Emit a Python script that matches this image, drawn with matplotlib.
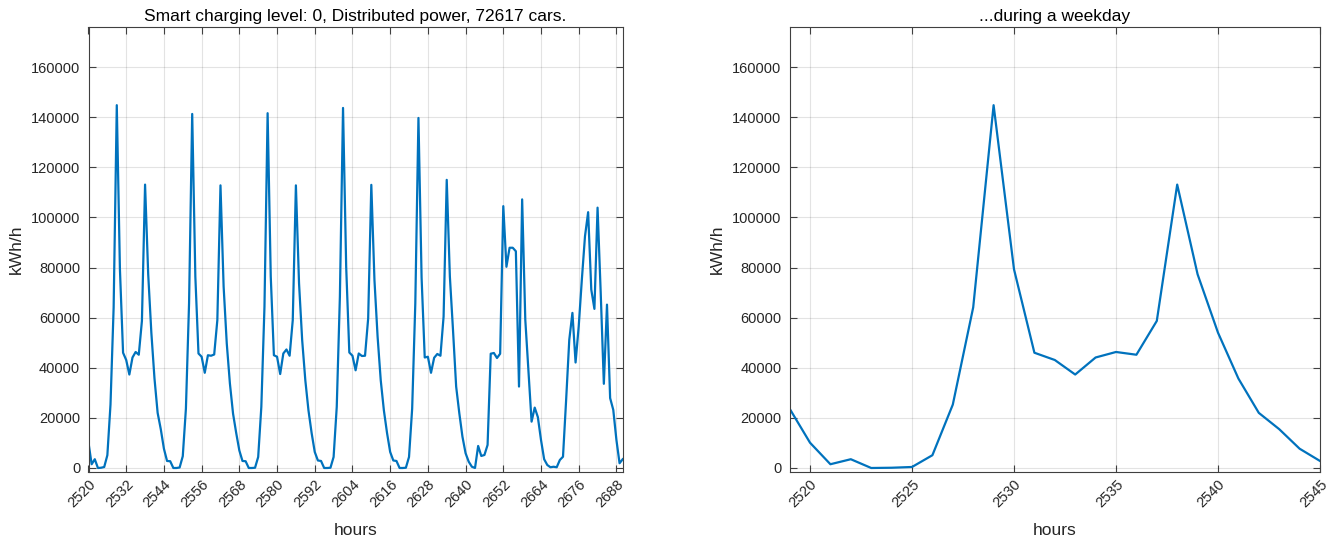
import numpy as np
import matplotlib
matplotlib.use("Agg")
import matplotlib.pyplot as plt

plt.rcParams['font.family'] = ['Liberation Sans', 'DejaVu Sans']

# ---- data ----
week_start_hour = 2520
week_power = [
    10100, 1500, 3500, 0, 100, 400, 5100, 25300, 64100, 144800, 79300, 46000,
    43100, 37300, 44100, 46300, 45200, 58700, 113100, 77300, 54000, 35700, 22000, 15500,
    7700, 2800, 2700, 0, 0, 200, 4700, 23700, 65700, 141300, 76400, 45700,
    44400, 38000, 45000, 44800, 45300, 59000, 112800, 72400, 49700, 33700, 21700, 14000,
    7000, 2800, 2700, 0, 0, 100, 4400, 24400, 64400, 141600, 76400, 45000,
    44400, 37500, 45700, 47300, 44800, 59000, 112800, 73700, 51000, 35000, 23000, 14000,
    6400, 3000, 2800, 0, 0, 100, 4400, 24400, 68400, 143700, 80400, 46100,
    44800, 39000, 45700, 44700, 44800, 59700, 113000, 75000, 52400, 35000, 23000, 14000,
    6400, 3000, 2800, 0, 0, 100, 4400, 23700, 65700, 139700, 76000, 44100,
    44400, 38000, 44000, 45500, 44800, 60400, 115000, 76400, 55000, 32500, 21900, 12500,
    5900, 2500, 500, 0, 8800, 4800, 5200, 9200, 45600, 45900, 43900, 45600,
    104500, 80300, 87900, 87900, 86500, 32500, 107200, 59200, 38500, 18500, 24100, 20300,
    11200, 3500, 1200, 300, 500, 300, 3200, 4500, 27200, 51200, 61900, 42100,
    56500, 75200, 92500, 102100, 71200, 63500, 103900, 70000, 33600, 65200, 27900, 23200,
    11200, 1900, 3500,
]
week_hours = np.arange(week_start_hour, week_start_hour + len(week_power))

day_start_hour = 2519
day_power = [
    23700, 10100, 1500, 3500, 0, 100, 400, 5100, 25300, 64100, 144800, 79300,
    46000, 43100, 37300, 44100, 46300, 45200, 58700, 113100, 77300, 54000,
    35700, 22000, 15500, 7700, 2800,
]
day_hours = np.arange(day_start_hour, day_start_hour + len(day_power))

left_xticks = list(range(2520, 2689, 12))
right_xticks = list(range(2520, 2546, 5))
yticks = list(range(0, 160001, 20000))

title_left = "Smart charging level: 0, Distributed power, 72617 cars."
title_right = "...during a weekday"

# ---- style ----
W, H = 1339, 545
fig = plt.figure(figsize=(W / 100, H / 100), dpi=100)
line_col = '#0072BD'
txt_col = '#262626'


def style(ax):
    ax.grid(True, color='#000000', alpha=0.11, linewidth=0.8)
    ax.set_axisbelow(True)
    for s in ax.spines.values():
        s.set_color('#404040')
        s.set_linewidth(0.8)
    ax.tick_params(direction='in', length=5, width=0.8, color='#404040',
                   top=True, right=True, labelsize=10.5, labelcolor=txt_col)
    ax.tick_params(axis='y', pad=6)
    ax.tick_params(axis='x', pad=4)
    ax.set_yticks(yticks)
    ax.set_yticklabels([str(v) for v in yticks])
    ax.set_ylim(-1600, 176000)
    ax.set_xlabel('hours', fontsize=12.5, color=txt_col, labelpad=9)
    ax.set_ylabel('kWh/h', fontsize=12.5, color=txt_col, labelpad=5)


ax1 = fig.add_axes([88.5 / W, 1 - 472 / H, (622.7 - 88.5) / W, (472 - 27) / H])
ax1.plot(week_hours, week_power, color=line_col, linewidth=1.6)
style(ax1)
ax1.set_xlim(2520, 2690)
ax1.set_xticks(left_xticks)
ax1.set_xticklabels([str(v) for v in left_xticks], rotation=45, ha='right',
                    rotation_mode='anchor')
ax1.set_title(title_left, fontsize=12.5, color='black', pad=4)

ax2 = fig.add_axes([789.6 / W, 1 - 472 / H, (1320 - 789.6) / W, (472 - 27) / H])
ax2.plot(day_hours, day_power, color=line_col, linewidth=1.6)
style(ax2)
ax2.set_xlim(2519, 2545)
ax2.set_xticks(right_xticks)
ax2.set_xticklabels([str(v) for v in right_xticks], rotation=45, ha='right',
                    rotation_mode='anchor')
ax2.set_title(title_right, fontsize=12.5, color='black', pad=4)

fig.savefig('out.png', dpi=100)
